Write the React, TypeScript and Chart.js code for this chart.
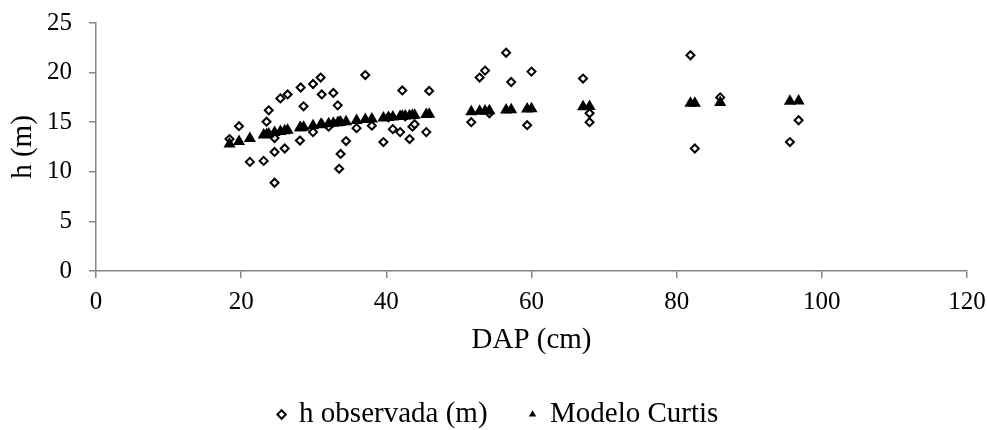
import React, { useEffect, useRef } from 'react';
import { Chart, registerables } from 'chart.js';

Chart.register(...registerables);

// Observed tree heights (diamonds)
const dapObserved = [
  18.4, 19.7, 21.2, 23.1, 23.5, 23.8, 24.6, 24.6, 24.6, 25.4,
  26.0, 26.4, 28.1, 28.2, 28.6, 29.9, 29.9, 30.95, 31.1, 32.05,
  32.7, 33.3, 33.7, 33.5, 34.45, 35.9, 37.1, 38.0, 39.6, 40.3,
  40.9, 41.9, 42.2, 42.6, 43.2, 43.6, 43.9, 45.5, 45.9, 51.7,
  52.85, 53.6, 54.2, 56.5, 57.2, 59.4, 60.0, 67.1, 68.0, 68.0,
  81.9, 82.5, 86.0, 95.6, 96.8,
];
const hObserved = [
  13.3, 14.6, 11.0, 11.1, 15.05, 16.2, 13.4, 12.0, 8.9, 17.4,
  12.35, 17.8, 13.15, 18.5, 16.6, 18.85, 14.0, 19.5, 17.8, 14.55,
  17.95, 16.7, 11.8, 10.3, 13.1, 14.4, 19.75, 14.65, 13.0, 15.5,
  14.3, 14.0, 18.2, 15.6, 13.3, 14.55, 14.8, 14.0, 18.15, 15.0,
  19.5, 20.2, 15.9, 22.0, 19.05, 14.7, 20.1, 19.4, 15.9, 15.0,
  21.75, 12.35, 17.5, 13.0, 15.2,
];

// Curtis model estimates (triangles)
const dapModel = [
  18.4, 19.7, 21.2, 23.1, 23.5, 23.8, 24.6, 25.4, 26.0, 26.4,
  28.1, 28.2, 28.6, 29.9, 30.95, 31.1, 32.05, 32.7, 33.3, 33.5,
  33.7, 34.45, 35.9, 37.1, 38.0, 39.6, 40.3, 40.9, 41.9, 42.2,
  42.6, 43.2, 43.6, 43.9, 45.5, 45.9, 51.7, 52.85, 53.6, 54.2,
  56.5, 57.2, 59.4, 60.0, 67.1, 68.0, 81.9, 82.5, 86.0, 95.6,
  96.8,
];
const hModel = [
  12.8, 13.05, 13.35, 13.7, 13.75, 13.8, 13.95, 14.05, 14.15, 14.2,
  14.45, 14.45, 14.5, 14.65, 14.75, 14.77, 14.85, 14.9, 14.95, 14.97,
  14.99, 15.05, 15.17, 15.26, 15.33, 15.43, 15.47, 15.52, 15.58, 15.6,
  15.62, 15.66, 15.68, 15.7, 15.78, 15.8, 16.05, 16.1, 16.13, 16.15,
  16.23, 16.26, 16.33, 16.35, 16.55, 16.58, 16.9, 16.92, 16.98, 17.12,
  17.14,
];

const xTickValues = [0, 20, 40, 60, 80, 100, 120];
const yTickValues = [0, 5, 10, 15, 20, 25];

const seriesNames = ['h observada (m)', 'Modelo Curtis'];
const xTitle = 'DAP (cm)';
const yTitle = 'h (m)';

const FONT = "'Liberation Serif', 'Times New Roman', serif";
const AXIS = '#868686';

export default function App() {
  const ref = useRef<HTMLCanvasElement | null>(null);

  useEffect(() => {
    if (!ref.current) return;
    const toPts = (xs: number[], ys: number[]) => xs.map((x, i) => ({ x, y: ys[i] }));
    const chart = new Chart(ref.current, {
      type: 'scatter',
      data: {
        datasets: [
          {
            label: seriesNames[1],
            data: toPts(dapModel, hModel),
            pointStyle: 'triangle',
            pointRadius: 7,
            pointBackgroundColor: '#000',
            pointBorderColor: '#000',
            pointBorderWidth: 0,
            backgroundColor: '#000',
            borderColor: '#000',
          },
          {
            label: seriesNames[0],
            data: toPts(dapObserved, hObserved),
            pointStyle: 'rectRot',
            pointRadius: 4,
            pointBackgroundColor: '#fff',
            pointBorderColor: '#000',
            pointBorderWidth: 2,
            backgroundColor: '#fff',
            borderColor: '#000',
          },
        ],
      },
      options: {
        responsive: true,
        maintainAspectRatio: false,
        animation: false,
        layout: { padding: { top: 23, right: 20, left: 30, bottom: 0 } },
        plugins: {
          tooltip: { enabled: false },
          legend: {
            position: 'bottom',
            reverse: true,
            maxHeight: 72,
            labels: {
              usePointStyle: true,
              boxWidth: 6,
              boxHeight: 6,
              padding: 42,
              color: '#000',
              font: { family: FONT, size: 29 },
            },
          },
        },
        scales: {
          x: {
            type: 'linear',
            min: 0,
            max: 120,
            afterBuildTicks: (s: any) => {
              s.ticks = xTickValues.map((v) => ({ value: v }));
            },
            afterFit: (s: any) => {
              s.height = 87;
              s.paddingLeft = 0;
              s.paddingRight = 0;
            },
            ticks: {
              color: '#000',
              padding: 9,
              font: { family: FONT, size: 25 },
              maxRotation: 0,
            },
            grid: {
              drawOnChartArea: false,
              drawTicks: true,
              tickLength: 7,
              color: AXIS,
              lineWidth: 1.5,
            },
            border: { color: AXIS, width: 1.5 },
            title: {
              display: true,
              text: xTitle,
              color: '#000',
              font: { family: FONT, size: 29 },
              padding: { top: 0, bottom: 0 },
            },
          },
          y: {
            type: 'linear',
            min: 0,
            max: 25,
            afterBuildTicks: (s: any) => {
              s.ticks = yTickValues.map((v) => ({ value: v }));
            },
            afterFit: (s: any) => {
              s.width = 66;
              s.paddingTop = 0;
              s.paddingBottom = 0;
            },
            ticks: {
              color: '#000',
              padding: 17,
              font: { family: FONT, size: 25 },
            },
            grid: {
              drawOnChartArea: false,
              drawTicks: true,
              tickLength: 7,
              color: AXIS,
              lineWidth: 1.5,
            },
            border: { color: AXIS, width: 1.5 },
            title: {
              display: true,
              text: yTitle,
              color: '#000',
              font: { family: FONT, size: 29 },
              padding: { top: -24, bottom: 0 },
            },
          },
        },
      },
    });
    return () => chart.destroy();
  }, []);

  return (
    <div style={{ position: 'fixed', left: 0, top: 0, width: '987px', height: '430px' }}>
      <canvas ref={ref} />
    </div>
  );
}
